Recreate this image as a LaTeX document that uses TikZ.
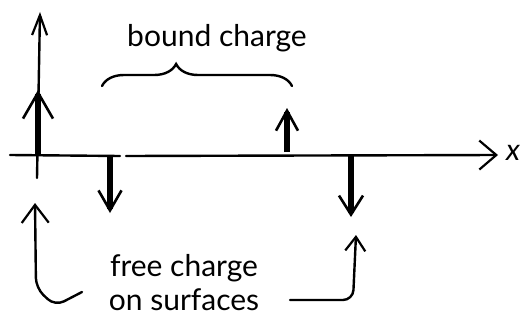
\documentclass[tikz,border=0pt]{standalone}
\usepackage{fontspec}
\setmainfont{Lato}
\usetikzlibrary{arrows.meta,decorations.pathreplacing}

\tikzstyle{axis}=[line width=2.4pt, line cap=round]
\tikzstyle{charge}=[line width=5.5pt]
\tikzstyle{hook}=[line width=2.4pt, line cap=round, rounded corners=10pt]
\tikzstyle{brace}=[line width=2.4pt, line cap=round, decorate, decoration={brace, amplitude=22pt, aspect=0.39}]
\tikzstyle{handtext}=[font=\fontsize{30}{34}\selectfont, align=center, inner sep=0pt]

\begin{document}
\begin{tikzpicture}[x=1pt, y=-1pt]
    \useasboundingbox (0,0) rectangle (528,332);

    % axes
    \coordinate (ybot) at (37,178);
    \coordinate (ytop) at (40,12);
    \coordinate (xl) at (10,155);
    \coordinate (xgapl) at (120,156);
    \coordinate (xgapr) at (126,156);
    \coordinate (xr) at (498,155);
    \draw [axis, -{Straight Barb[length=20pt,width=15pt,line width=2.2pt]}] (ybot) -- (ytop);
    \draw [axis] (xl) -- (xgapl);
    \draw [axis, -{Straight Barb[length=17pt,width=29pt,line width=2.2pt]}] (xgapr) -- (xr);
    \node [handtext, anchor=west] (xlab) at (506,153) {\textit{x}};

    % charges
    \coordinate (qa) at (38,155);
    \coordinate (qatip) at (38,90);
    \coordinate (qb) at (287,152);
    \coordinate (qbtip) at (287,108);
    \coordinate (qc) at (110,157);
    \coordinate (qctip) at (110,213);
    \coordinate (qd) at (351,156);
    \coordinate (qdtip) at (351,217);
    \draw [charge, -{Straight Barb[length=26pt,width=30pt,line width=2.6pt]}] (qa) -- (qatip);
    \draw [charge, -{Straight Barb[length=20pt,width=22pt,line width=2.6pt]}] (qb) -- (qbtip);
    \draw [charge, -{Straight Barb[length=20pt,width=23pt,line width=2.6pt]}] (qc) -- (qctip);
    \draw [charge, -{Straight Barb[length=19pt,width=24pt,line width=2.6pt]}] (qd) -- (qdtip);

    % bound charge
    \node [handtext] (bound) at (217,38) {bound charge};
    \coordinate (bl) at (102,86);
    \coordinate (br) at (292,86);
    \draw [brace] (bl) -- (br);

    % free charge
    \node [handtext] (free) at (184,283) {free charge\\on surfaces};
    \coordinate (hla) at (82,292);
    \coordinate (hlb) at (55,306);
    \coordinate (hlc) at (36,288);
    \coordinate (hld) at (35,203);
    \coordinate (hra) at (290,300);
    \coordinate (hrb) at (353,300);
    \coordinate (hrc) at (356,235);
    \draw [hook, -{Straight Barb[length=18pt,width=27pt,line width=2.2pt]}] (hla) -- (hlb) -- (hlc) -- (hld);
    \draw [hook, -{Straight Barb[length=14pt,width=20pt,line width=2.2pt]}] (hra) -- (hrb) -- (hrc);
\end{tikzpicture}
\end{document}
